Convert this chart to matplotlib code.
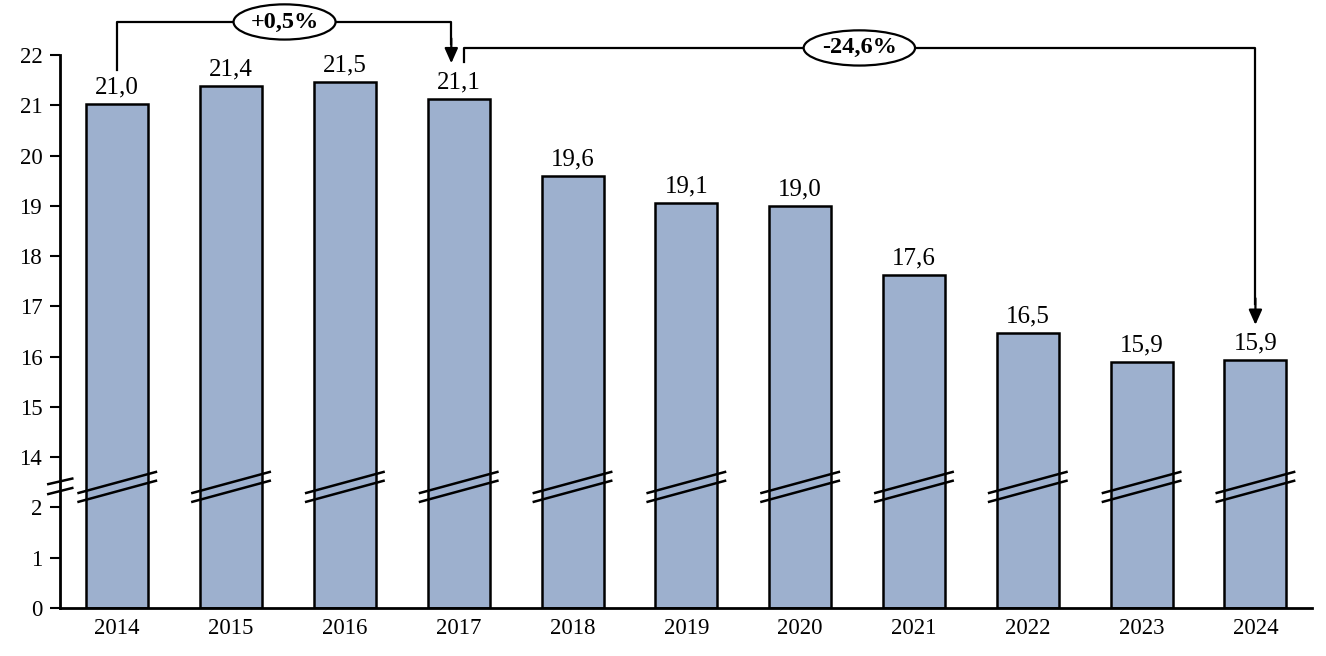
import numpy as np
import matplotlib.pyplot as plt
from matplotlib.transforms import blended_transform_factory

# dane
years = ['2014', '2015', '2016', '2017', '2018', '2019', '2020', '2021', '2022', '2023', '2024']
values = [21.03, 21.39, 21.47, 21.13, 19.59, 19.06, 18.99, 17.63, 16.46, 15.90, 15.94]
yticks = [0, 1, 2, 14, 15, 16, 17, 18, 19, 20, 21, 22]
change_1 = '+0,5%'
change_2 = '-24,6%'

plt.rcParams['font.family'] = ['Liberation Serif', 'DejaVu Serif']


# przerwana os y: 0-2 i 14-22
def fwd(v):
    v = np.asarray(v, dtype=float)
    return np.where(v <= 2, v, np.where(v >= 14, v - 11, 2 + (v - 2) / 12))


def inv(p):
    p = np.asarray(p, dtype=float)
    return np.where(p <= 2, p, np.where(p >= 3, p + 11, 2 + (p - 2) * 12))


fig = plt.figure(figsize=(13.26, 6.56), dpi=100)
ax = fig.add_axes([0.0455, 0.0732, 0.9442, 0.843])
ax.set_yscale('function', functions=(fwd, inv))

x = np.arange(len(years))
ax.bar(x, values, width=0.545, color='#9DB0CE', edgecolor='black', linewidth=1.8, zorder=2)

for xi, v in zip(x, values):
    ax.annotate(f'{v:.1f}'.replace('.', ','), (xi, v), xytext=(0, 4), textcoords='offset points',
                ha='center', va='bottom', fontsize=18)

ax.set_xlim(-0.5, len(years) - 0.5)
ax.set_ylim(0, 22)
ax.set_yticks(yticks)
ax.set_yticklabels([str(t) for t in yticks])
ax.yaxis.set_minor_locator(plt.NullLocator())
ax.set_xticks(x)
ax.set_xticklabels(years)
ax.tick_params(axis='x', length=0, labelsize=16.5, pad=7)
ax.tick_params(axis='y', length=7, width=1.5, labelsize=16.5, pad=6)
for s in ['top', 'right']:
    ax.spines[s].set_visible(False)
for s in ['left', 'bottom']:
    ax.spines[s].set_linewidth(2)

tr = blended_transform_factory(ax.transData, ax.transAxes)

# znaczniki przerwy na słupkach
for xi in x:
    ax.plot([xi - 0.34, xi + 0.34], [0.208, 0.246], color='black', lw=1.8, transform=tr, zorder=3, clip_on=False)
    ax.plot([xi - 0.34, xi + 0.34], [0.192, 0.230], color='black', lw=1.8, transform=tr, zorder=3, clip_on=False)
# na osi
ax.plot([-0.606, -0.395], [0.224, 0.234], color='black', lw=1.8, transform=tr, clip_on=False)
ax.plot([-0.606, -0.395], [0.206, 0.217], color='black', lw=1.8, transform=tr, clip_on=False)

# strzalki ze zmianami
arrow = dict(arrowstyle='-|>,head_width=0.4,head_length=0.9', color='black', lw=1.6, shrinkA=0, shrinkB=0)
ax.plot([0, 0, 2.935, 2.935], [0.973, 1.0597, 1.0597, 1.02], color='black', lw=1.6, transform=tr, clip_on=False)
ax.annotate('', xy=(2.935, 0.985), xytext=(2.935, 1.03), xycoords=tr, textcoords=tr, arrowprops=arrow)
ax.text(1.47, 1.0597, change_1, transform=tr, ha='center', va='center', fontsize=17.5, fontweight='bold',
        bbox=dict(boxstyle='ellipse,pad=0.08', facecolor='white', edgecolor='black', lw=1.6))

ax.plot([3.049, 3.049, 10, 10], [0.987, 1.0127, 1.0127, 0.55], color='black', lw=1.6, transform=tr, clip_on=False)
ax.annotate('', xy=(10, 0.512), xytext=(10, 0.56), xycoords=tr, textcoords=tr, arrowprops=arrow)
ax.text(6.52, 1.0127, change_2, transform=tr, ha='center', va='center', fontsize=17.5, fontweight='bold',
        bbox=dict(boxstyle='ellipse,pad=0.08', facecolor='white', edgecolor='black', lw=1.6))

fig.savefig('out.png', dpi=100)
